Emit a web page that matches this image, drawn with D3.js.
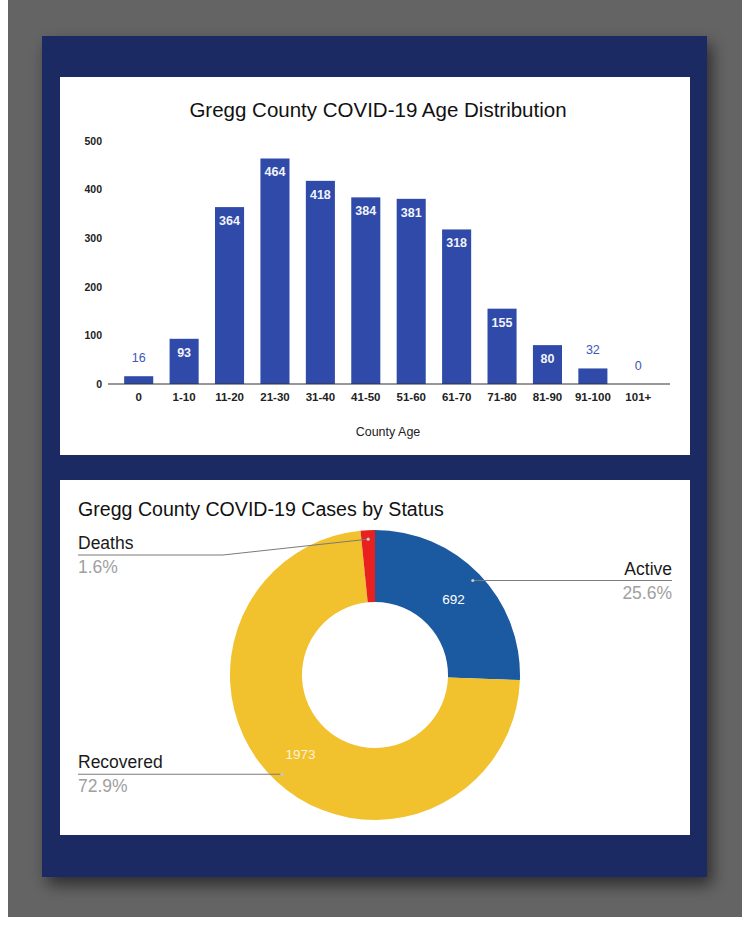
<!DOCTYPE html>
<html>
<head>
<meta charset="utf-8">
<script src="https://cdn.jsdelivr.net/npm/d3@7"></script>
<style>
  html, body { margin: 0; padding: 0; background: #fff; }
  text { font-family: "Liberation Sans", Arial, sans-serif; }
</style>
</head>
<body>
<script>
  // data
  var ageGroups = ["0", "1-10", "11-20", "21-30", "31-40", "41-50", "51-60", "61-70", "71-80", "81-90", "91-100", "101+"];
  var ageCases  = [16, 93, 364, 464, 418, 384, 381, 318, 155, 80, 32, 0];
  var yTicks    = [0, 100, 200, 300, 400, 500];

  var statusNames  = ["Active", "Recovered", "Deaths"];
  var statusCases  = [692, 1973, 43];
  var statusColors = ["#1b5aa0", "#f2c12e", "#e8201f"];

  var W = 753, H = 929;

  var svg = d3.select("body").append("svg")
      .attr("width", W)
      .attr("height", H);

  var defs = svg.append("defs");
  var shadow = defs.append("filter").attr("id", "shadow")
      .attr("x", "-10%").attr("y", "-10%").attr("width", "120%").attr("height", "120%");
  shadow.append("feDropShadow")
      .attr("dx", 5).attr("dy", 8).attr("stdDeviation", 8)
      .attr("flood-color", "#000").attr("flood-opacity", 0.55);

  /* backdrop: grey page, navy board, two white cards */
  svg.append("rect").attr("x", 8).attr("y", 0).attr("width", 734).attr("height", 917).attr("fill", "#646464");
  svg.append("rect").attr("x", 42).attr("y", 36).attr("width", 665).attr("height", 841)
      .attr("fill", "#1b2a64").attr("filter", "url(#shadow)");
  svg.append("rect").attr("x", 60).attr("y", 77).attr("width", 630).attr("height", 378).attr("fill", "#fff");
  svg.append("rect").attr("x", 60).attr("y", 480).attr("width", 630).attr("height", 355).attr("fill", "#fff");

  /* ---------- bar chart ---------- */
  var barColor = "#2f4aa8";

  svg.append("text")
      .attr("x", 378).attr("y", 117)
      .attr("text-anchor", "middle")
      .attr("font-size", 20.5)
      .attr("fill", "#111")
      .text("Gregg County COVID-19 Age Distribution");

  var x = d3.scaleBand()
      .domain(ageGroups)
      .range([116, 661])
      .paddingInner(0.36)
      .paddingOuter(0.18);

  var y = d3.scaleLinear()
      .domain([0, 500])
      .range([384, 141]);

  var yAxis = svg.append("g")
      .attr("transform", "translate(108,0)")
      .call(d3.axisLeft(y).tickValues(yTicks).tickSize(0).tickPadding(6));
  yAxis.select(".domain").remove();
  yAxis.selectAll("text")
      .attr("font-family", "Liberation Sans, Arial, sans-serif")
      .attr("font-size", 10.5)
      .attr("font-weight", "bold")
      .attr("fill", "#222");

  svg.selectAll(".bar")
      .data(ageCases)
      .enter().append("rect")
      .attr("class", "bar")
      .attr("x", function(d, i) { return x(ageGroups[i]); })
      .attr("y", function(d) { return y(d); })
      .attr("width", x.bandwidth())
      .attr("height", function(d) { return y(0) - y(d); })
      .attr("fill", barColor);

  var xAxis = svg.append("g")
      .attr("transform", "translate(0," + y(0) + ")")
      .call(d3.axisBottom(x).tickSize(0).tickPadding(9));
  xAxis.select(".domain").remove();
  xAxis.selectAll("text")
      .attr("font-family", "Liberation Sans, Arial, sans-serif")
      .attr("font-size", 11.5)
      .attr("font-weight", "bold")
      .attr("fill", "#222");

  svg.append("line")
      .attr("x1", 108).attr("x2", 670)
      .attr("y1", y(0)).attr("y2", y(0))
      .attr("stroke", "#333").attr("stroke-width", 1.2);

  // value labels: inside the bar when it is tall enough, above it otherwise
  svg.selectAll(".val")
      .data(ageCases)
      .enter().append("text")
      .attr("class", "val")
      .attr("x", function(d, i) { return x(ageGroups[i]) + x.bandwidth() / 2; })
      .attr("y", function(d) { return (y(0) - y(d) > 30) ? y(d) + 18 : y(d) - 14; })
      .attr("text-anchor", "middle")
      .attr("font-size", 12.5)
      .attr("font-weight", function(d) { return (y(0) - y(d) > 30) ? "bold" : "normal"; })
      .attr("fill", function(d) { return (y(0) - y(d) > 30) ? "#f2f4fb" : "#3d56b8"; })
      .text(function(d) { return d; });

  svg.append("text")
      .attr("x", 388).attr("y", 436)
      .attr("text-anchor", "middle")
      .attr("font-size", 12.5)
      .attr("fill", "#222")
      .text("County Age");

  /* ---------- donut ---------- */
  svg.append("text")
      .attr("x", 78).attr("y", 516)
      .attr("font-size", 19.6)
      .attr("fill", "#111")
      .text("Gregg County COVID-19 Cases by Status");

  var cx = 375, cy = 675, rOuter = 145, rInner = 73;
  var total = d3.sum(statusCases);

  var pie = d3.pie().sort(null).value(function(d) { return d; });
  var slices = pie(statusCases);

  var arc = d3.arc().innerRadius(rInner).outerRadius(rOuter);
  var midArc = d3.arc().innerRadius((rInner + rOuter) / 2).outerRadius((rInner + rOuter) / 2);
  var dotArc = d3.arc().innerRadius(136).outerRadius(136);

  var donut = svg.append("g").attr("transform", "translate(" + cx + "," + cy + ")");

  donut.selectAll("path")
      .data(slices)
      .enter().append("path")
      .attr("d", arc)
      .attr("fill", function(d, i) { return statusColors[i]; });

  // values inside the ring (skip tiny slices)
  donut.selectAll(".inner")
      .data(slices.filter(function(d) { return d.value / total > 0.05; }))
      .enter().append("text")
      .attr("class", "inner")
      .attr("transform", function(d) { return "translate(" + midArc.centroid(d) + ")"; })
      .attr("dy", "0.35em")
      .attr("text-anchor", "middle")
      .attr("font-size", 13.5)
      .attr("fill", function(d) { return d.index == 1 ? "#fbf3d6" : "#fff"; })
      .text(function(d) { return d.value; });

  // leader lines and side labels
  var leftX = 78, rightX = 672, topLimit = 555;
  slices.forEach(function(d, i) {
    var p = dotArc.centroid(d);
    var px = cx + p[0], py = cy + p[1];
    var right = px > cx + 20;
    var endX = right ? rightX : leftX;
    var ly = Math.max(py, topLimit);
    var pts = [[px, py]];
    if (ly != py) pts.push([leftX + 145, ly]);
    pts.push([endX, ly]);

    svg.append("path")
        .attr("d", d3.line()(pts))
        .attr("fill", "none")
        .attr("stroke", "#7a7a7a")
        .attr("stroke-width", 1);
    svg.append("circle")
        .attr("cx", px).attr("cy", py).attr("r", 1.6)
        .attr("fill", "#c8c8c8");

    svg.append("text")
        .attr("x", endX).attr("y", ly - 6)
        .attr("text-anchor", right ? "end" : "start")
        .attr("font-size", 17.5)
        .attr("fill", "#1a1a1a")
        .text(statusNames[i]);
    svg.append("text")
        .attr("x", endX).attr("y", ly + 18)
        .attr("text-anchor", right ? "end" : "start")
        .attr("font-size", 17.5)
        .attr("fill", "#a0a0a0")
        .text((d.value / total * 100).toFixed(1) + "%");
  });
</script>
</body>
</html>
